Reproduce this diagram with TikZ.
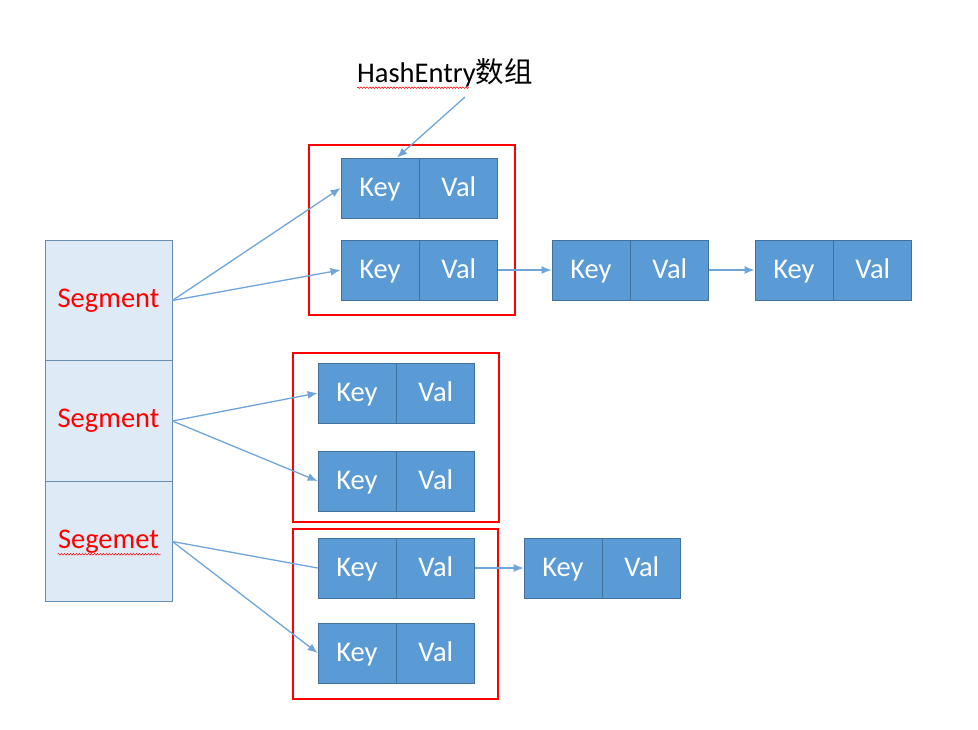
\documentclass[tikz,border=0pt]{standalone}
\usepackage{fontspec}
\setmainfont{Carlito}
\newfontfamily\cjk{Noto Sans CJK SC}
\usetikzlibrary{positioning, arrows.meta, decorations.pathmorphing}

\definecolor{cellblue}{HTML}{5B9BD5}
\definecolor{cellline}{HTML}{41719C}
\definecolor{segfill}{HTML}{DEEBF7}
\definecolor{linkblue}{HTML}{6FA5D8}

\tikzset{
	every cell/.style={draw=cellline, fill=cellblue, text=white, minimum width=78pt, minimum height=60pt, inner sep=0pt, text height=20pt, text depth=4pt, line width=0.8pt},
	segment cell/.style={draw=cellline!80, fill=segfill, text=red, minimum width=127pt, minimum height=120.5pt, inner sep=0pt, line width=0.8pt},
	bucket/.style={draw=red, line width=1.2pt},
	link/.style={draw=linkblue, line width=1.3pt},
	squiggle/.style={draw=red, line width=0.5pt, decorate, decoration={snake, amplitude=0.8pt, segment length=3pt}}
}

\begin{document}
\begin{tikzpicture}[x=1pt, y=-1pt, >={Latex[length=10pt, width=8pt]}, font=\fontsize{28.5}{32}\selectfont]

	\useasboundingbox (0,0) rectangle (978,729);

	\foreach \l [count=\i] in {Segment, Segment, Segemet}
		\node [segment cell] (seg-\i) at (108.5, 180 + \i*120.5) {\l};

	\foreach \n/\x/\y in {a1/380/188, a2/380/270, a3/591/270, a4/794/270, b1/357/393, b2/357/481, c1/357/568, c2/357/653, c3/563/568}
	{
		\node [every cell] (key-\n) at (\x, \y) {Key};
		\node [every cell, right=0pt of key-\n] (val-\n) {Val};
	}

	\draw [bucket] (309,145) rectangle (515,315);
	\draw [bucket] (293,353) rectangle (499,522);
	\draw [bucket] (293,529) rectangle (498,699);

	\node [inner sep=0pt] (title) at (445,73) {HashEntry{\cjk 数组}};
	\coordinate (title-tail) at (465,97);
	\draw [link, ->] (title-tail) -- ([xshift=17pt]key-a1.north);

	\foreach \s/\e in {1/a1, 1/a2, 2/b1, 2/b2, 3/c2}
		\draw [link, ->] (seg-\s.east) -- (key-\e.west);
	\draw [link] (seg-3.east) -- (key-c1.west);

	\foreach \i/\j in {a2/a3, a3/a4, c1/c3}
		\draw [link, ->] (val-\i) -- (key-\j);

	\draw [squiggle] ([yshift=-5pt]title.base west) -- ++(112,0);
	\draw [squiggle] ([xshift=-51pt, yshift=-6pt]seg-3.base) -- ++(103,0);
\end{tikzpicture}
\end{document}
